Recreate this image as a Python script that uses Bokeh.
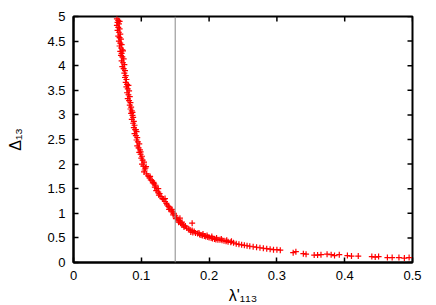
from bokeh.plotting import figure
from bokeh.models import Range1d, FixedTicker, Span
from bokeh.embed import file_html
from bokeh.resources import INLINE
import math

# ---- data ----
lam = [0.064, 0.066, 0.065, 0.067, 0.064, 0.066, 0.068, 0.065, 0.067, 0.069, 0.066, 0.068, 0.070, 0.067,
       0.069, 0.071, 0.068, 0.070, 0.072, 0.069, 0.071, 0.070, 0.072, 0.074, 0.071, 0.073, 0.075, 0.072,
       0.074, 0.076, 0.075, 0.077, 0.076, 0.078, 0.077, 0.079, 0.078, 0.080, 0.082, 0.079, 0.081, 0.083,
       0.080, 0.082, 0.084, 0.083, 0.085, 0.084, 0.086, 0.085, 0.087, 0.088, 0.086, 0.089, 0.088, 0.090,
       0.089, 0.091, 0.093, 0.090, 0.092, 0.094, 0.093, 0.095, 0.097, 0.094, 0.096, 0.098, 0.097, 0.099,
       0.101, 0.100, 0.102, 0.104, 0.101, 0.103, 0.106, 0.105, 0.104, 0.108, 0.110, 0.112, 0.114, 0.116,
       0.118, 0.119, 0.121, 0.120, 0.123, 0.122, 0.125, 0.127, 0.126, 0.129, 0.131, 0.133, 0.135, 0.137,
       0.138, 0.140, 0.142, 0.141, 0.144, 0.146, 0.148, 0.147, 0.150, 0.152, 0.151, 0.154, 0.156, 0.155,
       0.158, 0.160, 0.162, 0.165, 0.163, 0.167, 0.170, 0.172, 0.175, 0.178, 0.176, 0.180, 0.183, 0.186,
       0.188, 0.190, 0.193, 0.195, 0.198, 0.200, 0.203, 0.205, 0.208, 0.210, 0.213, 0.216, 0.219, 0.222,
       0.225, 0.228, 0.232, 0.236, 0.240, 0.244, 0.248, 0.252, 0.256, 0.260, 0.265, 0.270, 0.275, 0.280,
       0.285, 0.290, 0.295, 0.300, 0.305,
       0.173, 0.185, 0.191, 0.197, 0.204, 0.211, 0.218, 0.226, 0.233, 0.160, 0.157, 0.145, 0.135, 0.125,
       0.175, 0.068, 0.073, 0.081, 0.087, 0.092, 0.099, 0.107, 0.113, 0.117,
       0.324, 0.328, 0.339, 0.343, 0.355, 0.360, 0.365, 0.374, 0.380, 0.385, 0.392, 0.404, 0.410, 0.420,
       0.440, 0.445, 0.450, 0.463, 0.470, 0.480, 0.488, 0.495]
delta = [4.95, 4.92, 4.88, 4.85, 4.82, 4.78, 4.75, 4.72, 4.68, 4.64, 4.60, 4.57, 4.54, 4.50,
         4.46, 4.43, 4.40, 4.36, 4.32, 4.29, 4.25, 4.21, 4.18, 4.14, 4.10, 4.06, 4.02, 3.98,
         3.94, 3.90, 3.85, 3.80, 3.76, 3.72, 3.66, 3.62, 3.57, 3.53, 3.49, 3.45, 3.41, 3.37,
         3.33, 3.29, 3.25, 3.20, 3.16, 3.12, 3.08, 3.03, 2.99, 2.95, 2.91, 2.87, 2.83, 2.79,
         2.74, 2.70, 2.66, 2.62, 2.58, 2.54, 2.49, 2.45, 2.41, 2.37, 2.33, 2.29, 2.24, 2.20,
         2.16, 2.12, 2.08, 2.04, 2.00, 1.96, 1.92, 1.88, 1.84, 1.80, 1.76, 1.72, 1.68, 1.66,
         1.63, 1.60, 1.57, 1.53, 1.50, 1.46, 1.43, 1.40, 1.37, 1.34, 1.30, 1.28, 1.24, 1.20,
         1.17, 1.14, 1.11, 1.08, 1.05, 1.03, 1.00, 0.97, 0.95, 0.92, 0.89, 0.87, 0.85, 0.82,
         0.80, 0.78, 0.76, 0.74, 0.72, 0.70, 0.68, 0.66, 0.65, 0.63, 0.61, 0.60, 0.59, 0.57,
         0.56, 0.55, 0.54, 0.53, 0.52, 0.51, 0.50, 0.49, 0.48, 0.47, 0.46, 0.46, 0.45, 0.44,
         0.43, 0.42, 0.41, 0.40, 0.38, 0.37, 0.36, 0.35, 0.34, 0.33, 0.32, 0.31, 0.30, 0.29,
         0.28, 0.27, 0.26, 0.26, 0.25,
         0.62, 0.60, 0.58, 0.55, 0.53, 0.50, 0.48, 0.45, 0.43, 0.82, 0.90, 1.08, 1.30, 1.50,
         0.80, 4.90, 4.30, 3.60, 3.05, 2.70, 2.25, 1.95, 1.75, 1.62,
         0.20, 0.22, 0.18, 0.17, 0.15, 0.15, 0.16, 0.17, 0.16, 0.14, 0.16, 0.14, 0.13, 0.13,
         0.12, 0.11, 0.12, 0.10, 0.10, 0.10, 0.09, 0.10]

x_ticks = [0, 0.1, 0.2, 0.3, 0.4, 0.5]
x_tick_labels = ["0", "0.1", "0.2", "0.3", "0.4", "0.5"]
y_ticks = [0, 0.5, 1, 1.5, 2, 2.5, 3, 3.5, 4, 4.5, 5]
y_tick_labels = ["0", "0.5", "1", "1.5", "2", "2.5", "3", "3.5", "4", "4.5", "5"]
x_title = "λ'₁₁₃"
y_title = "Δ₁₃"
cut_lam = 0.15

FONT = "Liberation Sans"

p = figure(output_backend="svg", toolbar_location=None,
           frame_width=339, frame_height=246,
           min_border_left=73, min_border_right=24, min_border_top=16, min_border_bottom=43,
           x_range=Range1d(x_ticks[0], x_ticks[-1]), y_range=Range1d(y_ticks[0], y_ticks[-1]),
           background_fill_color="white", border_fill_color="white")
p.grid.visible = False
p.outline_line_color = "black"
p.outline_line_width = 2

def style_axis(ax, ticks, labels):
    ax.ticker = FixedTicker(ticks=ticks)
    ax.major_label_overrides = {t: l for t, l in zip(ticks, labels)}
    ax.axis_line_color = "black"
    ax.axis_line_width = 2
    ax.major_tick_in = 5
    ax.major_tick_out = 0
    ax.major_tick_line_width = 1.5
    ax.major_tick_line_color = "black"
    ax.minor_tick_line_color = None
    ax.major_label_text_font = FONT
    ax.major_label_text_color = "black"
    ax.major_label_text_font_size = "13px"
    ax.major_label_standoff = 8
    ax.axis_label_text_font = FONT
    ax.axis_label_text_font_style = "normal"
    ax.axis_label_text_font_size = "16px"
    ax.axis_label_text_color = "black"

style_axis(p.xaxis[0], x_ticks, x_tick_labels)
style_axis(p.yaxis[0], y_ticks, y_tick_labels)
p.xaxis[0].axis_label = x_title
p.xaxis[0].axis_label_standoff = 4
p.yaxis[0].axis_label = y_title
p.yaxis[0].axis_label_standoff = 20

# mirrored inward ticks on the top and right edges (clipped to the frame)
p.scatter(x_ticks, [y_ticks[-1]] * len(x_ticks), marker="dash", angle=math.pi / 2,
          size=10, line_color="black", line_width=1.5)
p.scatter([x_ticks[-1]] * len(y_ticks), y_ticks, marker="dash",
          size=10, line_color="black", line_width=1.5)

p.add_layout(Span(location=cut_lam, dimension="height", line_color="#888888", line_width=1))

p.scatter(lam, delta, marker="cross", size=6, line_color="red", line_width=1.2)

open("out.html", "w").write(file_html(p, INLINE))
